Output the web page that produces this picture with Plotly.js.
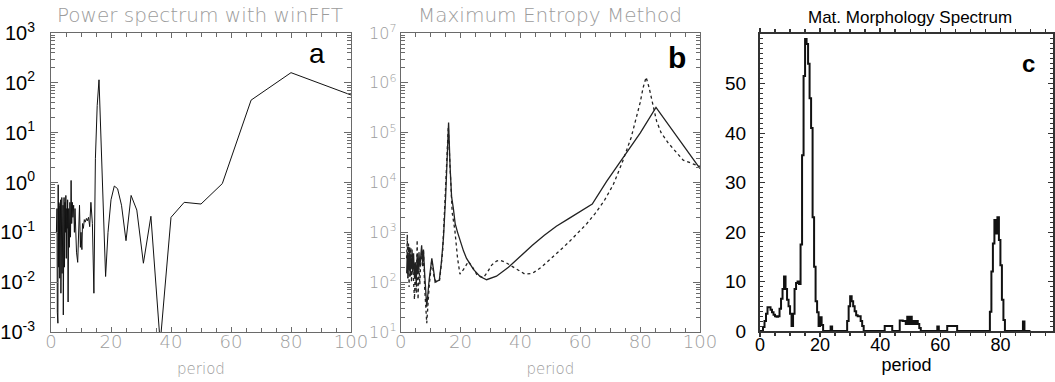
<!DOCTYPE html>
<html><head><meta charset="utf-8">
<script src="https://cdn.plot.ly/plotly-3.0.1.min.js"></script>
<style>html,body{margin:0;padding:0;background:#fff}#chart{width:1055px;height:382px}</style>
</head><body><div id="chart"></div><script>
// ---------- Panel a: power spectrum with winFFT ----------
const periodA = [1.8,2.0,2.1,2.2,2.3,2.4,2.5,2.6,2.7,2.8,2.9,3.0,3.1,3.2,3.3,3.4,3.5,3.6,3.7,3.8,3.9,4.0,4.1,4.2,4.35,4.5,4.65,4.8,4.95,5.1,5.25,5.4,5.55,5.7,5.9,6.1,6.3,6.5,6.7,6.9,7.1,7.3,7.55,7.8,8.0,8.3,8.5,8.9,9.1,9.5,9.8,10.0,10.3,10.5,10.8,11.1,11.4,11.8,12.1,12.5,12.9,13.3,13.8,14.3,14.8,15.4,16.0,16.7,17.4,18.2,19.0,20.0,21.1,22.2,23.5,25.0,26.7,28.6,30.8,33.3,36.4,40.0,44.4,50.0,57.1,66.7,80.0,100.0];
const powerA = [0.1,0.3,0.0025,0.45,0.0015,0.9,0.02,0.4,0.05,0.35,0.012,0.3,0.08,0.45,0.006,0.25,0.03,0.5,0.015,0.2,0.06,0.35,0.0022,0.15,0.5,0.02,0.4,0.1,0.55,0.03,0.3,0.12,0.45,0.004,0.3,0.05,0.4,0.08,1.1,0.15,0.4,0.2,0.35,0.1,0.3,0.05,0.04,0.025,0.1,0.35,0.05,0.1,0.045,0.15,0.12,0.18,0.16,0.19,0.17,0.2,0.13,0.4,0.15,0.006,3,35,115,6,0.35,0.013,0.1,0.45,0.85,0.75,0.35,0.068,0.55,0.28,0.024,0.21,0.0006,0.2,0.4,0.37,0.95,45,160,57];

// ---------- Panel b: maximum entropy method ----------
const periodBsolid = [2.0,2.2,2.4,2.6,2.8,3.0,3.2,3.4,3.6,3.8,4.0,4.3,4.6,4.9,5.2,5.5,5.8,6.1,6.4,6.7,7.0,7.3,7.6,8.0,8.7,9.5,10.4,11.0,11.5,12.2,12.9,13.6,14.3,15.0,15.5,16.0,16.5,17.0,17.6,18.2,19.0,19.8,21.0,22.0,24.3,26.5,28.7,32.0,36.0,40.0,44.0,48.0,52.0,56.0,60.0,64.0,68.8,73.1,80.0,85.3,100.0];
const memSolid = [150,400,120,350,180,500,130,300,200,450,160,380,120,250,90,350,150,400,200,300,550,250,450,150,32,110,300,170,100,105,110,250,800,5000,30000,160000,21000,5200,3000,1500,1000,700,420,300,180,130,112,132,200,330,550,870,1320,1860,2630,3700,10500,25000,98000,320000,19000];
const periodBdot = [2.0,2.2,2.4,2.6,2.8,3.0,3.2,3.4,3.6,3.8,4.0,4.3,4.6,4.9,5.2,5.5,5.8,6.1,6.4,6.7,7.0,7.3,7.6,8.0,8.4,8.7,9.5,10.4,11.2,12.0,13.0,14.0,15.0,15.9,16.5,17.2,18.1,19.0,19.8,21.0,22.6,24.0,25.5,27.6,29.0,30.4,32.0,33.2,35.0,37.6,40.0,41.5,44.0,47.0,50.0,53.0,56.0,59.0,62.0,65.0,68.0,71.0,74.0,77.0,80.0,81.0,82.0,83.0,84.0,85.5,87.0,89.4,94.4,100.0];
const memDot = [300,900,120,600,80,450,150,500,100,350,250,90,45,250,60,700,45,200,90,300,400,200,450,80,25,15,80,280,120,100,110,400,8000,130000,20000,2500,1100,300,145,180,260,200,140,123,160,220,265,275,250,200,160,145,150,200,290,420,620,950,1450,2400,4300,9000,25000,80000,400000,800000,1300000,800000,450000,170000,100000,62000,28000,21000];

// ---------- Panel c: mathematical morphology spectrum ----------
const periodC = [0,0.5,1,1.5,2,2.5,3,3.5,4,4.5,5,5.5,6,6.5,7,7.5,8,8.5,9,9.5,10,10.5,11,11.5,12,12.5,13,13.5,14,14.5,15,15.5,16,16.5,17,17.5,18,18.5,19,19.5,20,20.5,21,23.5,24,25,29,29.5,30,30.5,31,31.5,32,32.5,33,33.5,34,34.5,35,41.5,44,46,46.5,47.5,48.5,49,49.5,50,50.5,51,51.5,52,52.5,53,53.5,59,59.5,62.3,65.6,76,76.5,77,77.5,78,78.5,79,79.5,80,80.5,81,81.5,87,87.5,88,90];
const msC = [0,0,0.8,2,3.5,4.8,4.8,4.3,3.8,3.3,3,2.9,3,4.5,6.5,8.5,11,8.5,6.3,5,3.5,1,3.5,8.5,9.7,10,9.5,17.5,35.5,51.5,59,58,54,47,41,23,13,6,3.8,1,2.8,1.2,0,0.9,0,0,2,5,7,6,5,4,3.2,3,3,2,1,0,0,1,0,0,2.1,2,1.4,2.9,1.4,2.9,1.4,2,1.4,2,1.4,0.6,0,0.9,0,1,0,0,3.9,12,17.7,22.4,19.7,23,18.4,13.3,6.3,2.2,0,0,1.9,0,0];

// ---------- Tick labels ----------
const xTickVals = [0,20,40,60,80,100];
const xTickValsC = [0,20,40,60,80];
const yTickValsA = [0.001,0.01,0.1,1,10,100,1000];
const yTickTextA = ['10<sup>-3</sup>','10<sup>-2</sup>','10<sup>-1</sup>','10<sup>0</sup>','10<sup>1</sup>','10<sup>2</sup>','10<sup>3</sup>'];
const yTickValsB = [10,100,1000,10000,100000,1000000,10000000];
const yTickTextB = ['10<sup>1</sup>','10<sup>2</sup>','10<sup>3</sup>','10<sup>4</sup>','10<sup>5</sup>','10<sup>6</sup>','10<sup>7</sup>'];
const yTickValsC = [0,10,20,30,40,50];

const GRAY = '#9c9c9c';
const AX = '#6a6a6a';
const thin = (s) => ({family:'DejaVu Sans', size:s, color:GRAY, weight:200});
const arial = (s, c) => ({family:'Liberation Sans, Arial', size:s, color:c || '#000'});

const traces = [
  {x:periodA, y:powerA, xaxis:'x', yaxis:'y', mode:'lines', line:{color:'#111', width:1}, hoverinfo:'skip'},
  {x:periodBsolid, y:memSolid, xaxis:'x2', yaxis:'y2', mode:'lines', line:{color:'#222', width:1.3}, hoverinfo:'skip'},
  {x:periodBdot, y:memDot, xaxis:'x2', yaxis:'y2', mode:'lines', line:{color:'#222', width:1.3, dash:'dot'}, hoverinfo:'skip'},
  {x:periodC, y:msC, xaxis:'x3', yaxis:'y3', mode:'lines', line:{color:'#111', width:2, shape:'hv'}, hoverinfo:'skip'}
];

function xab(dom) {
  return {domain:dom, range:[0,100], tickmode:'array', tickvals:xTickVals, ticks:'inside', ticklen:5, tickcolor:AX,
    showline:true, linecolor:AX, linewidth:1, mirror:'allticks', showgrid:false, zeroline:false, tickfont:thin(18),
    ticklabelstandoff:-7,
    minor:{dtick:5, tick0:0, ticks:'inside', ticklen:4, tickcolor:AX, showgrid:false},
    title:{text:'period', font:thin(15), standoff:12}};
}

const layout = {
  width:1055, height:382, margin:{l:0,r:0,t:0,b:0}, showlegend:false,
  paper_bgcolor:'#fff', plot_bgcolor:'#fff',
  xaxis: xab([51/1055, 351/1055]),
  yaxis: {domain:[50/382, 349/382], type:'log', range:[-3,3], tickmode:'array', tickvals:yTickValsA, ticktext:yTickTextA,
    ticks:'inside', ticklen:7, tickcolor:AX, showline:true, linecolor:AX, linewidth:1, mirror:'allticks', showgrid:false, zeroline:false,
    tickfont:arial(20), ticklabelstandoff:11,
    minor:{dtick:'D1', ticks:'inside', ticklen:4, tickcolor:AX, showgrid:false}},
  xaxis2: Object.assign(xab([400.7/1055, 700/1055]), {anchor:'y2'}),
  yaxis2: {domain:[50/382, 349/382], anchor:'x2', type:'log', range:[1,7], tickmode:'array', tickvals:yTickValsB, ticktext:yTickTextB,
    ticks:'inside', ticklen:7, tickcolor:AX, showline:true, linecolor:AX, linewidth:1, mirror:'allticks', showgrid:false, zeroline:false,
    tickfont:thin(16), ticklabelstandoff:0,
    minor:{dtick:'D1', ticks:'inside', ticklen:4, tickcolor:AX, showgrid:false}},
  xaxis3: {domain:[760/1055, 1053/1055], anchor:'y3', range:[0,97.5], tickmode:'array', tickvals:xTickValsC, ticks:'outside', ticklen:4, tickcolor:'#333', tickwidth:1.5,
    showline:true, linecolor:'#333', linewidth:2, mirror:'allticks', showgrid:false, zeroline:false, tickfont:arial(18),
    ticklabelstandoff:-8,
    minor:{dtick:5, tick0:0, ticks:'outside', ticklen:3, tickcolor:'#333', tickwidth:1.5, showgrid:false},
    title:{text:'period', font:arial(18), standoff:4}},
  yaxis3: {domain:[51/382, 348/382], anchor:'x3', range:[0,60], tickmode:'array', tickvals:yTickValsC, ticks:'inside', ticklen:5, tickcolor:'#333',
    showline:true, linecolor:'#333', linewidth:2, mirror:'allticks', showgrid:false, zeroline:false, tickfont:arial(19), ticklabelstandoff:8,
    minor:{dtick:1, tick0:0, ticks:'inside', ticklen:3, tickcolor:'#333', showgrid:false}},
  annotations: [
    {text:'Power spectrum with winFFT', xref:'paper', yref:'paper', x:200/1055, y:1-15/382, xanchor:'center', yanchor:'middle', showarrow:false, font:thin(20)},
    {text:'Maximum Entropy Method', xref:'paper', yref:'paper', x:549.5/1055, y:1-15/382, xanchor:'center', yanchor:'middle', showarrow:false, font:thin(20)},
    {text:'Mat. Morphology Spectrum', xref:'paper', yref:'paper', x:910/1055, y:1-17/382, xanchor:'center', yanchor:'middle', showarrow:false, font:arial(17)},
    {text:'a', xref:'paper', yref:'paper', x:317/1055, y:1-54/382, xanchor:'center', yanchor:'middle', showarrow:false, font:arial(28)},
    {text:'<b>b</b>', xref:'paper', yref:'paper', x:677/1055, y:1-57/382, xanchor:'center', yanchor:'middle', showarrow:false, font:arial(30)},
    {text:'<b>c</b>', xref:'paper', yref:'paper', x:1028/1055, y:1-64/382, xanchor:'center', yanchor:'middle', showarrow:false, font:arial(24)}
  ]
};

Plotly.newPlot('chart', traces, layout, {displayModeBar:false, staticPlot:true});
</script></body></html>
